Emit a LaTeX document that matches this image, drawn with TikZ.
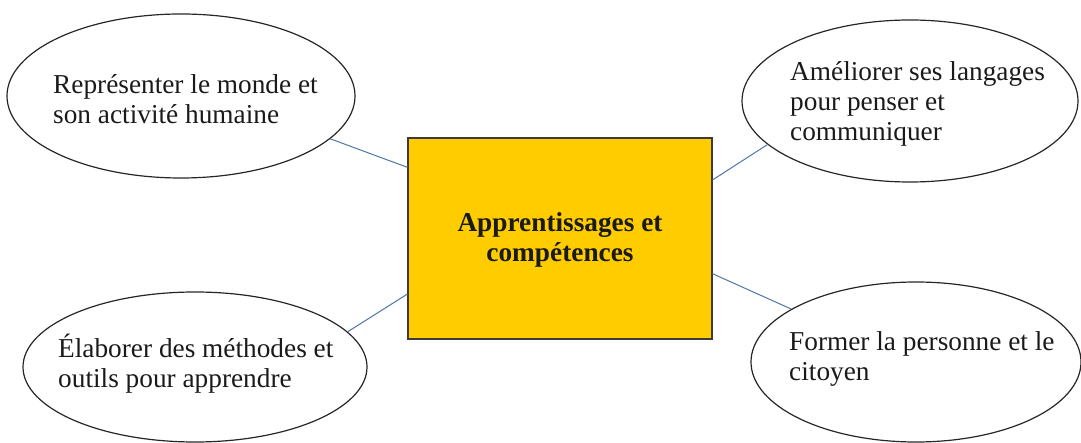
\documentclass[tikz,border=0pt]{standalone}
\usepackage{fontspec}
\setmainfont{Liberation Serif}
\usetikzlibrary{shapes.geometric}
\definecolor{gold}{HTML}{FFCC00}
\definecolor{conn}{HTML}{4F75AA}
\definecolor{txt}{HTML}{1A1A1A}
\begin{document}
\begin{tikzpicture}[x=1pt,y=-1pt,
  oval/.style={draw=black!85, line width=1.2pt, ellipse, inner sep=0pt},
  lbl/.style={anchor=base west, inner sep=0pt, text=txt, font=\fontsize{27.3}{30}\selectfont},
  ctr/.style={anchor=base, inner sep=0pt, text=txt, font=\fontsize{27.3}{30}\selectfont\bfseries},
  conline/.style={draw=conn, line width=1pt}]
\useasboundingbox (0,0) rectangle (1081,443);
\node[draw=black!80!yellow!60!black, line width=1.2pt, fill=gold, minimum width=304pt, minimum height=201pt, inner sep=0pt] (box) at (560,238.5) {};
\node[oval, minimum width=348pt, minimum height=164pt] (tl) at (181,96) {};
\node[oval, minimum width=336pt, minimum height=162pt] (tr) at (910,101) {};
\node[oval, minimum width=344pt, minimum height=150pt] (bl) at (195,367) {};
\node[oval, minimum width=330pt, minimum height=160pt] (br) at (916,362) {};
\node[ctr] (c1) at (560,232) {Apprentissages et};
\node[ctr] (c2) at (560,262) {compétences};
\node[lbl] (tl1) at (53,94) {Représenter le monde et};
\node[lbl] (tl2) at (53,124) {son activité humaine};
\node[lbl] (tr1) at (790,81) {Améliorer ses langages};
\node[lbl] (tr2) at (790,111) {pour penser et};
\node[lbl] (tr3) at (790,141) {communiquer};
\node[lbl] (bl1) at (58,357) {Élaborer des méthodes et};
\node[lbl] (bl2) at (58,387) {outils pour apprendre};
\node[lbl] (br1) at (789,350) {Former la personne et le};
\node[lbl] (br2) at (789,380) {citoyen};
\draw[conline] (tl.-16) -- (box.155.7);
\draw[conline] (tr.-163) -- (box.21.9);
\draw[conline] (bl.13.3) -- (box.-160.3);
\draw[conline] (br.157.9) -- (box.-13.1);
\end{tikzpicture}
\end{document}
